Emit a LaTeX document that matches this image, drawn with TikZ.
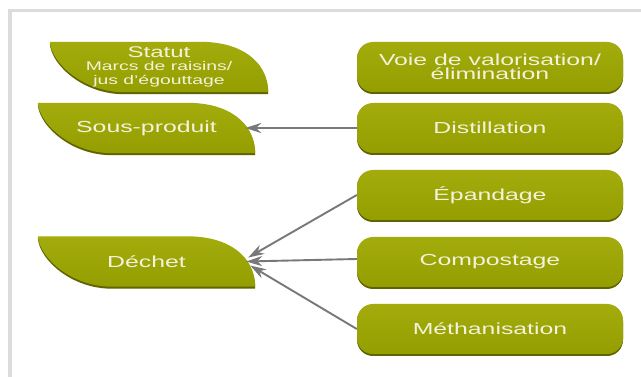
\documentclass[tikz,border=0pt]{standalone}
\usepackage{fontspec}
\setmainfont[FakeStretch=1.55]{Liberation Sans}
\usetikzlibrary{calc,arrows.meta,backgrounds}
\definecolor{olivetop}{HTML}{A3AC0C}
\definecolor{olivebot}{HTML}{949E00}
\definecolor{olivedark}{HTML}{5F6400}
\definecolor{txtcol}{HTML}{F4F2DC}
\definecolor{framegray}{HTML}{DCDCDC}
\definecolor{arrowgray}{HTML}{787878}
\newcommand\leafpath[1]{(#1.north west) -- ($(#1.north east)+(-68,0)$) .. controls ($(#1.north east)+(-26,0)$) and ($(#1.north east)+(-2,20)$) .. ($(#1.south east)+(0,-3)$) -- (#1.south east) -- ($(#1.south west)+(74,0)$) .. controls ($(#1.south west)+(34,0)$) and ($(#1.north west)+(2,22)$) .. cycle}
\tikzset{
  lbl/.style={text=txtcol, font=\fontsize{16}{14.5}\selectfont, align=center, inner sep=0pt},
  leafbox/.style={lbl, minimum width=217pt, minimum height=50pt},
  rbox/.style={lbl, minimum width=266pt, minimum height=50pt, rounded corners=16pt,
    top color=olivetop, bottom color=olivebot,
    preaction={fill=olivedark, transform canvas={yshift=-2pt}}},
  conn/.style={draw=arrowgray, line width=1.9pt, -{Stealth[length=16pt,width=10pt,inset=5pt]}}
}
\begin{document}
\begin{tikzpicture}[x=1pt,y=-1pt]
\useasboundingbox (0,0) rectangle (641,377);
% right column
\node[rbox] (voie) at (490,67) {Voie de valorisation/\\élimination};
\node[rbox] (dist) at (490,128) {Distillation};
\node[rbox] (epan) at (490,195) {Épandage};
\node[rbox] (comp) at (490,262) {Compostage};
\node[rbox] (meth) at (490,329) {Méthanisation};
% left column
\node[leafbox, minimum width=218pt] (statut) at (159,67) {\fontsize{15.5}{12}\selectfont Statut\\[-1.5pt]\fontsize{12.5}{10.5}\selectfont Marcs de raisins/\\\fontsize{12.5}{10.5}\selectfont jus d'égouttage};
\node[leafbox] (sp) at (146.5,128) {Sous-produit};
\node[leafbox] (dechet) at (146.5,261.5) {Déchet};
\begin{pgfonlayer}{background}
  \fill[white] (0,0) rectangle (641,377);
  \draw[framegray, line width=3.5pt] (8,10.5) -- (641,10.5);
  \draw[framegray, line width=4pt] (10,9) -- (10,377);
  \foreach \n in {statut,sp,dechet}{
    \fill[olivedark, transform canvas={yshift=-2pt}] \leafpath{\n};
    \shade[top color=olivetop, bottom color=olivebot] \leafpath{\n};
  }
\end{pgfonlayer}
% connector end points on the leaves
\coordinate (spin) at ($(sp.east)+(-10,0)$);
\coordinate (din1) at ($(dechet.east)+(-7,-4)$);
\coordinate (din2) at ($(dechet.east)+(-9,0)$);
\coordinate (din3) at ($(dechet.east)+(-5,4)$);
\draw[conn] (dist.west) -- (spin);
\draw[conn] (epan.west) -- (din1);
\draw[conn] ($(comp.west)+(0,-3)$) -- (din2);
\draw[conn] (meth.west) -- (din3);
\end{tikzpicture}
\end{document}
